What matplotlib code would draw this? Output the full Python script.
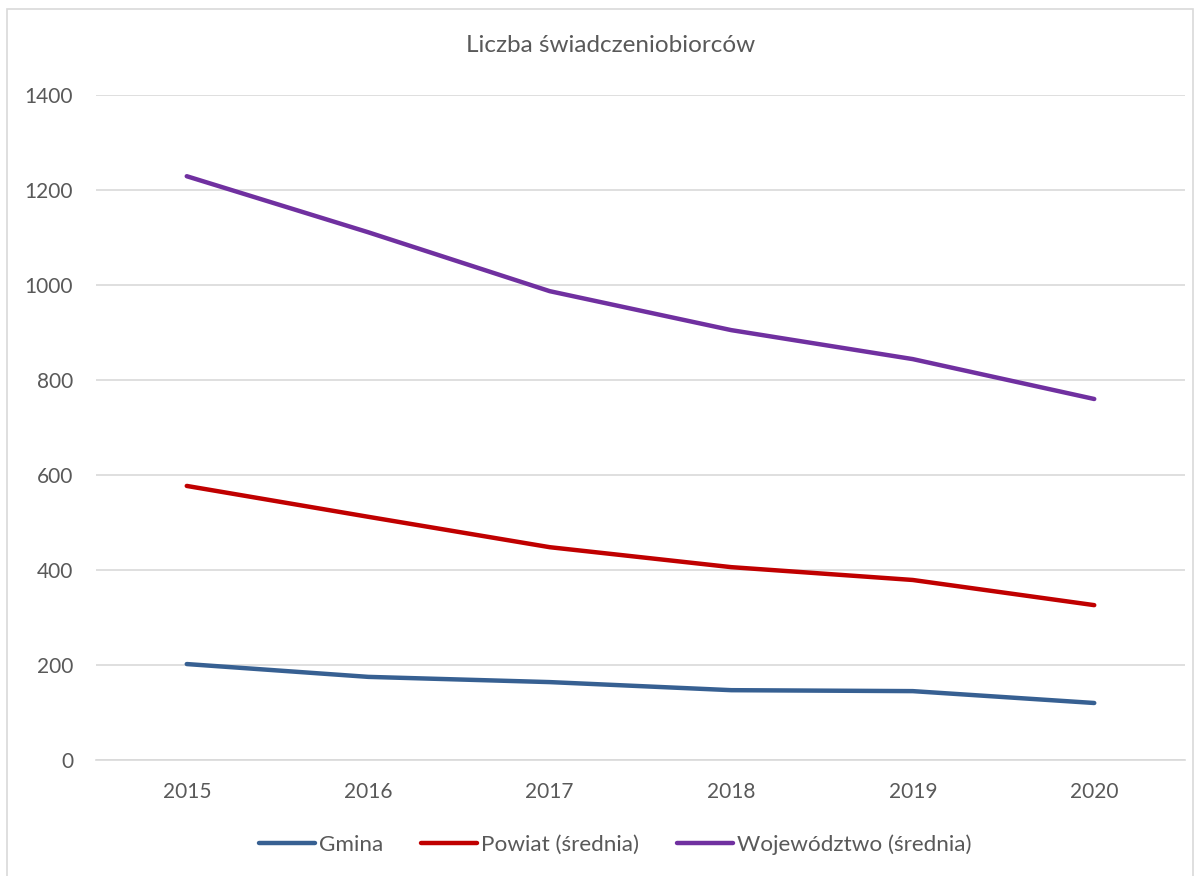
import matplotlib
matplotlib.use("Agg")
import matplotlib.pyplot as plt
from matplotlib.patches import Rectangle

plt.rcParams['font.family'] = ['Lato', 'DejaVu Sans']

years = ["2015", "2016", "2017", "2018", "2019", "2020"]
gmina = [202, 175, 164, 147, 145, 120]
powiat = [577, 512, 448, 406, 379, 326]
wojewodztwo = [1229, 1111, 987, 905, 844, 760]
series_names = ["Gmina", "Powiat (średnia)", "Województwo (średnia)"]
colors = ["#376092", "#C00000", "#7030A0"]
yticks = [0, 200, 400, 600, 800, 1000, 1200, 1400]

W, H = 1200, 876
fig = plt.figure(figsize=(W / 100, H / 100), dpi=100)
ax = fig.add_axes([96 / W, 1 - 760 / H, (1185 - 96) / W, (760 - 95) / H])

x = list(range(len(years)))
for vals, name, c in zip([gmina, powiat, wojewodztwo], series_names, colors):
    ax.plot(x, vals, color=c, lw=3.2, solid_capstyle='round', label=name)

ax.set_xlim(-0.5, len(years) - 0.5)
ax.set_ylim(0, 1400)
ax.set_yticks(yticks)
ax.set_xticks(x)
ax.set_xticklabels(years)
ax.grid(axis='y', color='#D9D9D9', lw=1.2)
ax.set_axisbelow(True)
for s in ['top', 'right', 'left']:
    ax.spines[s].set_visible(False)
ax.spines['bottom'].set_color('#D9D9D9')
ax.spines['bottom'].set_linewidth(1.2)
ax.tick_params(axis='both', length=0, colors='#595959', labelsize=15)
ax.tick_params(axis='y', pad=16.5)
ax.tick_params(axis='x', pad=16)

fig.text(611 / W, 1 - 45 / H, "Liczba świadczeniobiorców", ha='center', va='center',
         fontsize=17.5, color='#595959')

leg = fig.legend(loc='center', bbox_to_anchor=(615 / W, 1 - 845 / H), ncol=3, frameon=False,
                 fontsize=16.2, handlelength=2.5, handletextpad=0.15, columnspacing=1.7)
for t in leg.get_texts():
    t.set_color('#595959')

fig.patches.append(Rectangle((7 / W, -0.01), (1193 - 7) / W, 1 - 9 / H + 0.01,
                             transform=fig.transFigure, fill=False, edgecolor='#D9D9D9', lw=1.2))

fig.savefig("out.png", dpi=100, facecolor='white')
